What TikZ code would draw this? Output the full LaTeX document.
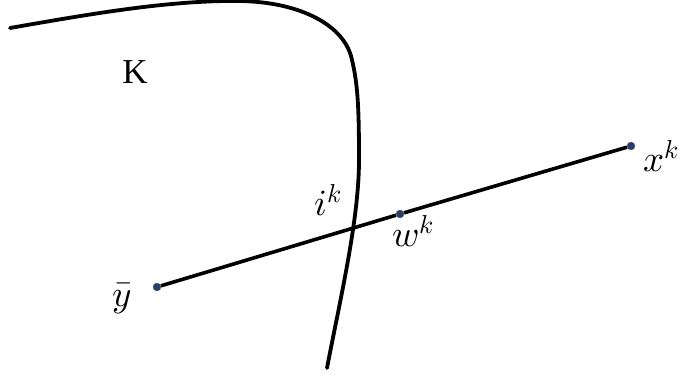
\documentclass[tikz,border=0pt]{standalone}
\usepackage{unicode-math}
\setmainfont{Liberation Serif}
\setmathfont{Latin Modern Math}
\definecolor{dotblue}{RGB}{38,62,105}
\tikzset{
  curveline/.style={line width=3.8pt, line cap=round},
  segline/.style={line width=3.6pt},
  pt/.style={circle, fill=dotblue, draw=black!60, line width=0.4pt, inner sep=0pt, minimum size=8pt},
  lbl/.style={inner sep=0pt, font=\fontsize{37}{40}\selectfont},
  Klbl/.style={inner sep=0pt, font=\fontsize{35}{38}\selectfont}
}
\begin{document}
\begin{tikzpicture}[x=1pt,y=-1pt]
\useasboundingbox (0,0) rectangle (680,376);
\draw[curveline] (10,28) .. controls (90,14) and (170,0) .. (240,1)
  .. controls (300,2) and (345,25) .. (352,60)
  .. controls (358,85) and (359,110) .. (359,160)
  .. controls (359,220) and (340,300) .. (327,368);
\node[pt] (y) at (157,287) {};
\node[pt] (x) at (631,146) {};
\node[pt] (w) at (400,214) {};
\draw[segline] (y) -- (w) -- (x);
\node[Klbl] (K) at (135,72) {K};
\node[lbl] (xl) at (661,156) {$x^k$};
\node[lbl] (il) at (328,200) {$i^k$};
\node[lbl] (wl) at (413,231) {$w^k$};
\node[lbl] (yl) at (122,298) {$\bar{y}$};
\end{tikzpicture}
\end{document}
